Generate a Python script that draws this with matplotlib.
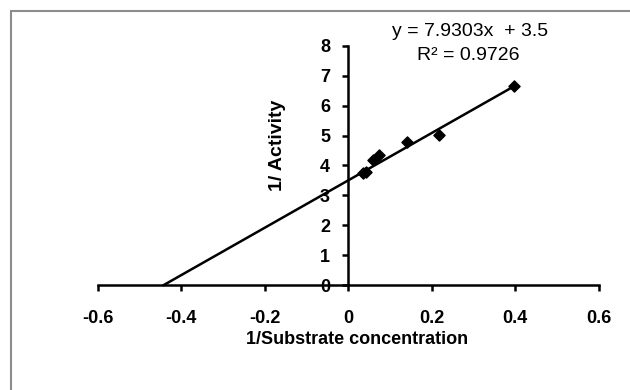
import matplotlib
matplotlib.use("Agg")
import matplotlib.pyplot as plt
from matplotlib.patches import Rectangle

# --- Data ---
inv_substrate = [0.035, 0.044, 0.059, 0.073, 0.140, 0.218, 0.398]
inv_activity = [3.74, 3.79, 4.20, 4.35, 4.79, 5.02, 6.66]
slope = 7.9303
intercept = 3.5
r_squared = 0.9726

x_ticks = [-0.6, -0.4, -0.2, 0, 0.2, 0.4, 0.6]
x_tick_labels = ["-0.6", "-0.4", "-0.2", "0", "0.2", "0.4", "0.6"]
y_ticks = [0, 1, 2, 3, 4, 5, 6, 7, 8]

plt.rcParams["font.family"] = ["Liberation Sans", "DejaVu Sans"]

fig = plt.figure(figsize=(6.3, 3.9), dpi=100)
fig.patch.set_facecolor("white")

# gray chart-area frame (cut off at right/bottom like the original)
fig.patches.append(Rectangle((11 / 630, -0.05), 1.0, 1 - 11 / 390 + 0.05,
                             transform=fig.transFigure, fill=False,
                             edgecolor="#8c8c8c", linewidth=1.5))

ax = fig.add_axes([97.6 / 630, 1 - 285 / 390, 501 / 630, 239 / 390])
ax.set_xlim(-0.6, 0.6)
ax.set_ylim(0, 8)

# trendline from x-intercept to last point
x0 = -intercept / slope
x1 = max(inv_substrate)
ax.plot([x0, x1], [slope * x0 + intercept, slope * x1 + intercept],
        color="black", lw=1.8, clip_on=False, zorder=2)
ax.scatter(inv_substrate, inv_activity, marker="D", s=32, color="black",
           zorder=3, clip_on=False)

# axes crossing at zero
for side in ["top", "right"]:
    ax.spines[side].set_visible(False)
ax.spines["left"].set_position(("data", 0))
ax.spines["bottom"].set_position(("data", 0))
ax.spines["left"].set_linewidth(1.8)
ax.spines["bottom"].set_linewidth(1.8)

ax.set_xticks(x_ticks)
ax.set_xticklabels(x_tick_labels, fontsize=13, fontweight="bold")
ax.set_yticks(y_ticks)
ax.set_yticklabels([str(v) for v in y_ticks], fontsize=13, fontweight="bold")
ax.tick_params(axis="x", direction="out", length=4, width=1.8, pad=14)
ax.tick_params(axis="y", direction="out", length=4, width=1.8, pad=9)

fig.text(277 / 630, 1 - 145 / 390, "1/ Activity", rotation=90,
         ha="center", va="center", fontsize=14, fontweight="bold")
fig.text(357 / 630, 1 - 340 / 390, "1/Substrate concentration",
         ha="center", va="center", fontsize=13, fontweight="bold")

fig.text(470 / 630, 1 - 32 / 390, f"y = {slope}x  + {intercept}",
         ha="center", va="center", fontsize=14)
fig.text(468 / 630, 1 - 55 / 390, f"R² = {r_squared}",
         ha="center", va="center", fontsize=14)

fig.savefig("out.png", dpi=100)
